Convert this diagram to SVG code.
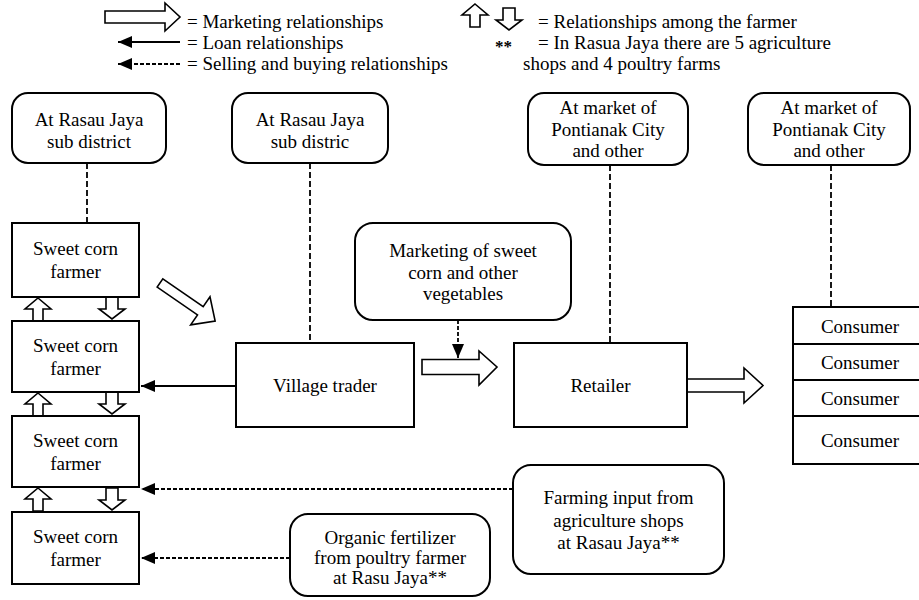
<svg xmlns="http://www.w3.org/2000/svg" xmlns:xlink="http://www.w3.org/1999/xlink" width="919" height="600" viewBox="0 0 919 600">
<style>
  text { font-family: "Liberation Serif", "Times New Roman", serif; font-size: 19px; fill: #000; }
  .c { text-anchor: middle; }
  .box { fill: #fff; stroke: #000; stroke-width: 2; }
  .rbox { fill: #fff; stroke: #000; stroke-width: 2; }
  .hollow { fill: #fff; stroke: #000; stroke-width: 1.6; stroke-linejoin: miter; }
  .dash { fill: none; stroke: #000; stroke-width: 1.8; stroke-dasharray: 6,3; }
  .dot { fill: none; stroke: #000; stroke-width: 1.8; stroke-dasharray: 4,2; }
  .solid { fill: none; stroke: #000; stroke-width: 1.8; }
</style>
<defs>
  <marker id="head" markerUnits="userSpaceOnUse" markerWidth="15" markerHeight="12" refX="14" refY="6" orient="auto">
    <path d="M0,0 L14,6 L0,12 z" fill="#000"/>
  </marker>
  <polygon id="upArrow" class="hollow" points="0,1 13,12 5,12 5,24 -5,24 -5,12 -13,12"/>
  <polygon id="downArrow" class="hollow" points="-6,0 6,0 6,12 13,12 0,22 -13,12 -6,12"/>
</defs>

<g id="legend">
  <polygon class="hollow" points="105,11 165,11 165,3 180,17 165,31 165,23 105,23"/>
  <text x="187" y="28">= Marketing relationships</text>
  <line class="solid" x1="180" y1="42" x2="118" y2="42" marker-end="url(#head)"/>
  <text x="187" y="49">= Loan relationships</text>
  <line class="dot" x1="180" y1="64" x2="118" y2="64" marker-end="url(#head)"/>
  <text x="187" y="70">= Selling and buying relationships</text>
  <use xlink:href="#upArrow" transform="translate(475,3)"/>
  <use xlink:href="#downArrow" transform="translate(509,8)"/>
  <text x="538" y="28">= Relationships among the farmer</text>
  <text x="495" y="52" style="font-size:17px;font-weight:bold">**</text>
  <text x="538" y="49">= In Rasua Jaya there are 5 agriculture</text>
  <text x="523" y="70">shops and 4 poultry farms</text>
</g>

<g id="connectors">
  <line class="dash" x1="87" y1="163" x2="87" y2="223"/>
  <line class="dash" x1="310" y1="163" x2="310" y2="343"/>
  <line class="dash" x1="610" y1="165" x2="610" y2="343"/>
  <line class="dash" x1="831" y1="165" x2="831" y2="307"/>
  <line class="solid" x1="236" y1="386" x2="141" y2="386" marker-end="url(#head)"/>
  <line class="dot" x1="513" y1="489" x2="141" y2="489" marker-end="url(#head)"/>
  <line class="dot" x1="290" y1="558" x2="141" y2="558" marker-end="url(#head)"/>
  <line class="dot" x1="458" y1="320" x2="458" y2="358" marker-end="url(#head)"/>
  <polygon class="hollow" transform="translate(160,283) rotate(34.6)" points="0,-5 49,-5 49,-17 67,0 49,17 49,5 0,5"/>
  <polygon class="hollow" points="422,359.5 479,359.5 479,351 497,367 479,385 479,374.5 422,374.5"/>
  <polygon class="hollow" points="687,379 744,379 744,368 763,385.5 744,403 744,392 687,392"/>
  <use xlink:href="#upArrow" transform="translate(38,297)"/>
  <use xlink:href="#downArrow" transform="translate(112,297)"/>
  <use xlink:href="#upArrow" transform="translate(38,392)"/>
  <use xlink:href="#downArrow" transform="translate(112,392)"/>
  <use xlink:href="#upArrow" transform="translate(38,487)"/>
  <use xlink:href="#downArrow" transform="translate(112,488)"/>
</g>

<g id="loc-farmer">
  <rect class="rbox" x="12" y="93" width="154" height="70" rx="16"/>
  <text class="c" x="89" y="126">At Rasau Jaya</text>
  <text class="c" x="89" y="148">sub district</text>
</g>
<g id="loc-trader">
  <rect class="rbox" x="232" y="93" width="156" height="70" rx="16"/>
  <text class="c" x="310" y="126">At Rasau Jaya</text>
  <text class="c" x="310" y="148">sub distric</text>
</g>
<g id="loc-retailer">
  <rect class="rbox" x="528" y="93" width="160" height="72" rx="16"/>
  <text class="c" x="608" y="114">At market of</text>
  <text class="c" x="608" y="136">Pontianak City</text>
  <text class="c" x="608" y="157">and other</text>
</g>
<g id="loc-consumer">
  <rect class="rbox" x="748" y="93" width="162" height="72" rx="16"/>
  <text class="c" x="829" y="114">At market of</text>
  <text class="c" x="829" y="136">Pontianak City</text>
  <text class="c" x="829" y="157">and other</text>
</g>

<g id="farmer1">
  <rect class="box" x="12" y="223" width="127" height="74"/>
  <text class="c" x="75.5" y="255">Sweet corn</text>
  <text class="c" x="75.5" y="278">farmer</text>
</g>
<g id="farmer2">
  <rect class="box" x="12" y="321" width="127" height="71"/>
  <text class="c" x="75.5" y="352">Sweet corn</text>
  <text class="c" x="75.5" y="375">farmer</text>
</g>
<g id="farmer3">
  <rect class="box" x="12" y="416" width="127" height="71"/>
  <text class="c" x="75.5" y="447">Sweet corn</text>
  <text class="c" x="75.5" y="470">farmer</text>
</g>
<g id="farmer4">
  <rect class="box" x="12" y="512" width="127" height="72"/>
  <text class="c" x="75.5" y="543">Sweet corn</text>
  <text class="c" x="75.5" y="566">farmer</text>
</g>

<g id="village-trader">
  <rect class="box" x="236" y="343" width="178" height="84"/>
  <text class="c" x="325" y="392">Village trader</text>
</g>
<g id="marketing">
  <rect class="rbox" x="355" y="223" width="216" height="97" rx="18"/>
  <text class="c" x="463" y="257">Marketing of sweet</text>
  <text class="c" x="463" y="279">corn and other</text>
  <text class="c" x="463" y="300">vegetables</text>
</g>
<g id="retailer">
  <rect class="box" x="514" y="343" width="173" height="84"/>
  <text class="c" x="600.5" y="392">Retailer</text>
</g>
<g id="consumers">
  <rect class="box" x="793" y="307" width="140" height="157"/>
  <line class="solid" x1="793" y1="344" x2="933" y2="344"/>
  <line class="solid" x1="793" y1="380" x2="933" y2="380"/>
  <line class="solid" x1="793" y1="416" x2="933" y2="416"/>
  <text class="c" x="860" y="333">Consumer</text>
  <text class="c" x="860" y="369">Consumer</text>
  <text class="c" x="860" y="405">Consumer</text>
  <text class="c" x="860" y="447">Consumer</text>
</g>
<g id="farming-input">
  <rect class="rbox" x="513" y="465" width="211" height="109" rx="18"/>
  <text class="c" x="618.5" y="504">Farming input from</text>
  <text class="c" x="618.5" y="527">agriculture shops</text>
  <text class="c" x="618.5" y="549">at Rasau Jaya**</text>
</g>
<g id="organic">
  <rect class="rbox" x="290" y="514" width="200" height="82" rx="18"/>
  <text class="c" x="390" y="544">Organic fertilizer</text>
  <text class="c" x="390" y="564">from poultry farmer</text>
  <text class="c" x="390" y="584">at Rasu Jaya**</text>
</g>
</svg>
